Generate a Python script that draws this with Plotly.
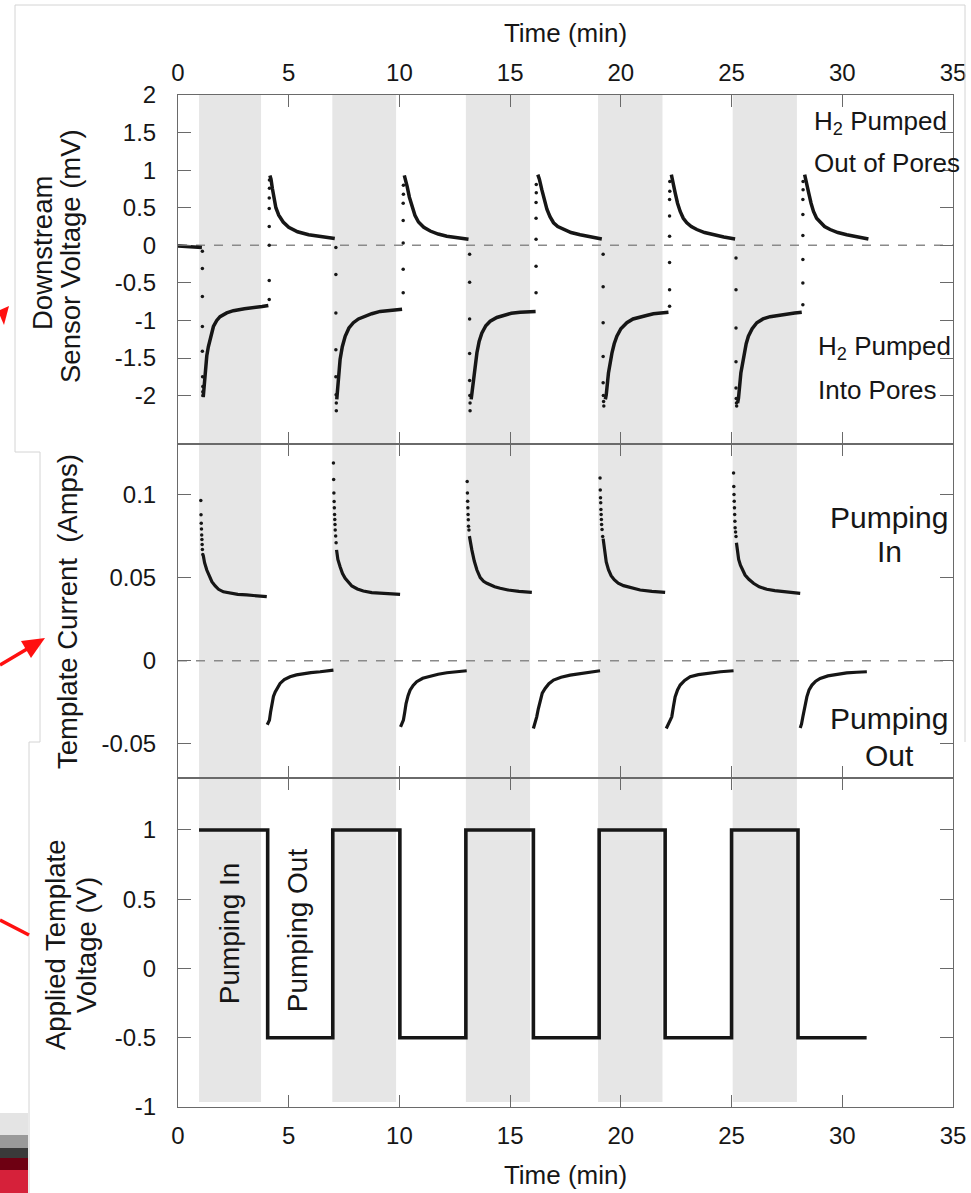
import plotly.graph_objects as go

# ---------------- data ----------------
time_ticks = [0, 5, 10, 15, 20, 25, 30, 35]
time_tick_text = ["0", "5", "10", "15", "20", "25", "30", "35"]

# grey "pumping in" bands (min)
band_start = [0.95, 6.97, 13.0, 18.97, 25.05]
band_end = [3.75, 9.85, 15.9, 21.88, 27.95]

# downstream sensor voltage (mV): continuous parts
sensor_curve_t = [
    0.0, 0.4, 0.8, 1.08, None,
    1.14, 1.18, 1.22, 1.3, 1.37, 1.48, 1.6, 1.75, 1.9, 2.2, 2.5, 3.0, 3.4, 3.8, 4.08, None,
    4.15, 4.2, 4.26, 4.33, 4.42, 4.55, 4.75, 5.0, 5.4, 5.9, 6.4, 7.08, None,
    7.17, 7.22, 7.27, 7.32, 7.42, 7.55, 7.72, 7.92, 8.15, 8.37, 8.75, 9.13, 9.6, 10.12, None,
    10.22, 10.28, 10.35, 10.45, 10.56, 10.7, 10.86, 11.1, 11.39, 11.75, 12.14, 12.6, 13.12, None,
    13.24, 13.3, 13.4, 13.5, 13.6, 13.72, 13.9, 14.1, 14.4, 14.7, 15.05, 15.45, 15.8, 16.15, None,
    16.25, 16.32, 16.43, 16.55, 16.66, 16.8, 16.96, 17.15, 17.41, 17.75, 18.16, 18.6, 19.14, None,
    19.3, 19.34, 19.44, 19.52, 19.6, 19.7, 19.82, 20.0, 20.27, 20.55, 20.87, 21.2, 21.47, 21.8, 22.15, None,
    22.28, 22.35, 22.45, 22.56, 22.68, 22.82, 22.98, 23.18, 23.43, 23.78, 24.18, 24.65, 25.16, None,
    25.27, 25.31, 25.42, 25.5, 25.57, 25.66, 25.76, 25.93, 26.14, 26.42, 26.74, 27.1, 27.5, 27.85, 28.17, None,
    28.3, 28.37, 28.48, 28.59, 28.7, 28.84, 29.0, 29.2, 29.45, 29.8, 30.2, 30.65, 31.18,
]
sensor_curve_mv = [
    -0.01, -0.02, -0.02, -0.03, None,
    -2.02, -1.85, -1.65, -1.47, -1.35, -1.2, -1.08, -1.0, -0.95, -0.9, -0.87, -0.845, -0.835, -0.815, -0.80, None,
    0.93, 0.88, 0.76, 0.62, 0.50, 0.40, 0.31, 0.24, 0.18, 0.14, 0.12, 0.09, None,
    -2.05, -1.9, -1.7, -1.52, -1.35, -1.21, -1.1, -1.03, -0.98, -0.95, -0.91, -0.88, -0.865, -0.85, None,
    0.93, 0.87, 0.78, 0.64, 0.52, 0.40, 0.31, 0.24, 0.19, 0.15, 0.12, 0.10, 0.08, None,
    -2.05, -1.9, -1.65, -1.43, -1.28, -1.17, -1.07, -1.01, -0.96, -0.93, -0.905, -0.89, -0.885, -0.88, None,
    0.94, 0.88, 0.74, 0.60, 0.48, 0.38, 0.30, 0.25, 0.21, 0.17, 0.14, 0.11, 0.085, None,
    -2.05, -1.99, -1.70, -1.55, -1.43, -1.31, -1.21, -1.11, -1.03, -0.98, -0.95, -0.93, -0.91, -0.90, -0.89, None,
    0.94, 0.86, 0.70, 0.56, 0.45, 0.36, 0.30, 0.25, 0.21, 0.17, 0.14, 0.11, 0.085, None,
    -2.1, -2.04, -1.70, -1.55, -1.43, -1.31, -1.21, -1.11, -1.03, -0.98, -0.95, -0.93, -0.91, -0.90, -0.89, None,
    0.94, 0.86, 0.70, 0.56, 0.45, 0.36, 0.31, 0.25, 0.21, 0.17, 0.14, 0.11, 0.085,
]

# downstream sensor voltage (mV): sparse points during the jumps
sensor_jump_t = [
    1.10, 1.10, 1.10, 1.10, 1.10, 1.11, 1.12, 1.12, 1.13,
    4.12, 4.12, 4.12, 4.12, 4.12, 4.12, 4.13, 4.13,
    7.13, 7.13, 7.13, 7.13, 7.13, 7.14, 7.15, 7.15,
    10.17, 10.17, 10.17, 10.17, 10.17, 10.18, 10.18,
    13.17, 13.17, 13.17, 13.17, 13.17, 13.18, 13.19, 13.19,
    16.17, 16.17, 16.17, 16.17, 16.17, 16.18, 16.18,
    19.2, 19.2, 19.2, 19.2, 19.2, 19.21, 19.22, 19.23,
    22.2, 22.2, 22.2, 22.2, 22.2, 22.2, 22.21, 22.21,
    25.2, 25.2, 25.2, 25.2, 25.2, 25.21, 25.22, 25.23,
    28.22, 28.22, 28.22, 28.22, 28.22, 28.22, 28.23, 28.23,
]
sensor_jump_mv = [
    -0.08, -0.31, -0.68, -1.08, -1.41, -1.75, -1.88, -1.95, -2.0,
    -0.72, -0.47, 0.0, 0.25, 0.49, 0.63, 0.76, 0.87,
    -0.03, -0.39, -0.9, -1.39, -1.75, -1.99, -2.1, -2.2,
    -0.63, -0.32, 0.03, 0.33, 0.56, 0.68, 0.80,
    -0.12, -0.49, -0.98, -1.44, -1.8, -2.0, -2.1, -2.2,
    -0.63, -0.28, 0.08, 0.36, 0.57, 0.70, 0.81,
    -0.12, -0.55, -1.03, -1.48, -1.83, -2.0, -2.08, -2.14,
    -0.81, -0.59, -0.23, 0.12, 0.39, 0.61, 0.72, 0.85,
    -0.17, -0.59, -1.10, -1.55, -1.9, -2.04, -2.1, -2.14,
    -0.79, -0.50, -0.19, 0.13, 0.41, 0.61, 0.74, 0.85,
]

# template current (A): pumping-in decays (continuous parts)
current_in_t = [
    1.14, 1.2, 1.3, 1.42, 1.53, 1.68, 1.83, 2.05, 2.35, 2.7, 3.1, 3.5, 4.01, None,
    7.16, 7.22, 7.32, 7.43, 7.55, 7.7, 7.85, 8.1, 8.37, 8.75, 9.13, 9.6, 10.03, None,
    13.16, 13.2, 13.27, 13.38, 13.5, 13.65, 13.8, 13.95, 14.1, 14.3, 14.55, 14.9, 15.4, 15.98, None,
    19.2, 19.26, 19.34, 19.44, 19.56, 19.7, 19.88, 20.12, 20.45, 20.87, 21.4, 22.0, None,
    25.22, 25.26, 25.32, 25.4, 25.5, 25.61, 25.78, 25.99, 26.25, 26.59, 26.95, 27.34, 27.7, 28.1,
]
current_in_a = [
    0.0635, 0.059, 0.0546, 0.0505, 0.0476, 0.045, 0.043, 0.0415, 0.0406, 0.0400, 0.0396, 0.0392, 0.0386, None,
    0.0667, 0.061, 0.0566, 0.0525, 0.0496, 0.047, 0.045, 0.0432, 0.042, 0.041, 0.0406, 0.0402, 0.040, None,
    0.075, 0.071, 0.0667, 0.060, 0.0546, 0.050, 0.0478, 0.0466, 0.0456, 0.0445, 0.0436, 0.0426, 0.0418, 0.0412, None,
    0.0735, 0.066, 0.0595, 0.0548, 0.0512, 0.0488, 0.0467, 0.0452, 0.044, 0.0426, 0.0418, 0.0412, None,
    0.071, 0.0655, 0.061, 0.0575, 0.0545, 0.0516, 0.049, 0.0466, 0.0445, 0.043, 0.0422, 0.0416, 0.041, 0.0406,
]

# template current (A): sparse points at the start of each pumping-in step
current_spike_t = [
    1.03, 1.04, 1.05, 1.06, 1.07, 1.08, 1.09, 1.1, 1.12,
    7.02, 7.03, 7.04, 7.05, 7.06, 7.07, 7.08, 7.09, 7.1, 7.12, 7.14,
    13.06, 13.07, 13.08, 13.09, 13.1, 13.11, 13.12, 13.14,
    19.06, 19.07, 19.08, 19.09, 19.1, 19.11, 19.12, 19.13, 19.15, 19.18,
    25.09, 25.1, 25.11, 25.12, 25.13, 25.14, 25.15, 25.16, 25.18, 25.2,
]
current_spike_a = [
    0.0964, 0.0878, 0.0828, 0.0792, 0.0757, 0.073, 0.070, 0.067, 0.064,
    0.119, 0.109, 0.101, 0.0958, 0.092, 0.088, 0.085, 0.082, 0.0787, 0.075, 0.071,
    0.1078, 0.101, 0.096, 0.092, 0.088, 0.0848, 0.081, 0.0787,
    0.110, 0.1028, 0.098, 0.095, 0.091, 0.088, 0.085, 0.082, 0.079, 0.0747,
    0.1129, 0.1048, 0.100, 0.096, 0.092, 0.088, 0.084, 0.080, 0.0775, 0.0747,
]

# template current (A): pumping-out recoveries
current_out_t = [
    4.03, 4.08, 4.13, 4.18, 4.24, 4.31, 4.39, 4.5, 4.61, 4.8, 5.06, 5.35, 5.66, 6.0, 6.42, 7.02, None,
    10.05, 10.12, 10.18, 10.24, 10.3, 10.39, 10.48, 10.62, 10.78, 11.05, 11.39, 11.75, 12.14, 12.6, 13.04, None,
    16.05, 16.12, 16.2, 16.27, 16.35, 16.45, 16.58, 16.75, 16.96, 17.3, 17.71, 18.2, 18.6, 19.06, None,
    22.05, 22.12, 22.2, 22.3, 22.38, 22.45, 22.56, 22.68, 22.88, 23.13, 23.5, 24.03, 24.5, 25.09, None,
    28.1, 28.16, 28.22, 28.3, 28.4, 28.5, 28.63, 28.8, 29.0, 29.35, 29.76, 30.2, 30.65, 31.11,
]
current_out_a = [
    -0.0385, -0.0375, -0.0357, -0.031, -0.0257, -0.0215, -0.0187, -0.016, -0.0136, -0.0113, -0.0096, -0.0085, -0.0076, -0.0071, -0.0066, -0.0056, None,
    -0.0398, -0.038, -0.0357, -0.031, -0.0257, -0.021, -0.0177, -0.0148, -0.0126, -0.0105, -0.0092, -0.0081, -0.0072, -0.0066, -0.006, None,
    -0.0407, -0.038, -0.0337, -0.029, -0.0237, -0.0195, -0.0166, -0.0138, -0.0116, -0.0099, -0.0086, -0.0075, -0.0068, -0.006, None,
    -0.0407, -0.039, -0.0365, -0.0337, -0.027, -0.0217, -0.0175, -0.0146, -0.0118, -0.0096, -0.0083, -0.0072, -0.0066, -0.006, None,
    -0.0404, -0.038, -0.0337, -0.028, -0.0217, -0.0175, -0.0146, -0.0123, -0.0106, -0.0091, -0.008, -0.0073, -0.0069, -0.0066,
]

# applied template voltage (V), step changes
volt_t = [0.95, 4.05, 6.99, 10.02, 13.0, 16.05, 19.02, 22.0, 25.0, 28.0, 31.1]
volt_v = [1, -0.5, 1, -0.5, 1, -0.5, 1, -0.5, 1, -0.5, -0.5]

sensor_ticks = [-2, -1.5, -1, -0.5, 0, 0.5, 1, 1.5, 2]
sensor_tick_text = ["-2", "-1.5", "-1", "-0.5", "0", "0.5", "1", "1.5", "2"]
current_ticks = [-0.05, 0, 0.05, 0.1]
current_tick_text = ["-0.05", "0", "0.05", "0.1"]
volt_ticks = [-1, -0.5, 0, 0.5, 1]
volt_tick_text = ["-1", "-0.5", "0", "0.5", "1"]

# ---------------- figure ----------------
W, H = 971, 1193
ML, MR, MT, MB = 178, 18, 95, 86
PW, PH = W - ML - MR, H - MT - MB
FONT = "Arial, Liberation Sans, Helvetica, sans-serif"
INK = "#161616"
AX = "#6a6a6a"
RED = "#ff1010"


def px_x(p):
    return (p - ML) / PW


def px_y(p):
    return (H - MB - p) / PH


top_dom = [px_y(444), 1.0]
mid_dom = [px_y(778), px_y(444)]
bot_dom = [0.0, px_y(778)]

fig = go.Figure()

fig.add_trace(go.Scatter(x=sensor_curve_t, y=sensor_curve_mv, mode="lines",
                         line=dict(color=INK, width=3.5), xaxis="x", yaxis="y",
                         showlegend=False, connectgaps=False))
fig.add_trace(go.Scatter(x=sensor_jump_t, y=sensor_jump_mv, mode="markers",
                         marker=dict(color=INK, size=3.5), xaxis="x", yaxis="y",
                         showlegend=False))
fig.add_trace(go.Scatter(x=current_in_t, y=current_in_a, mode="lines",
                         line=dict(color=INK, width=3.2), xaxis="x2", yaxis="y2",
                         showlegend=False, connectgaps=False))
fig.add_trace(go.Scatter(x=current_spike_t, y=current_spike_a, mode="markers",
                         marker=dict(color=INK, size=3.5), xaxis="x2", yaxis="y2",
                         showlegend=False))
fig.add_trace(go.Scatter(x=current_out_t, y=current_out_a, mode="lines",
                         line=dict(color=INK, width=3.2), xaxis="x2", yaxis="y2",
                         showlegend=False, connectgaps=False))
fig.add_trace(go.Scatter(x=volt_t, y=volt_v, mode="lines", line_shape="hv",
                         line=dict(color=INK, width=3.6), xaxis="x3", yaxis="y3",
                         showlegend=False))

shapes = []
for s, e in zip(band_start, band_end):
    shapes.append(dict(type="rect", xref="x", yref="paper", x0=s, x1=e, y0=0.005, y1=1,
                       fillcolor="#e6e6e6", line=dict(width=0), layer="below"))
for yr in ["y", "y2"]:
    shapes.append(dict(type="line", xref="x domain", yref=yr, x0=0, x1=1, y0=0, y1=0,
                       line=dict(color="#8a8a8a", width=1.4, dash="dash"), layer="below"))

# faint frame lines from the slide the figure was taken from
frame_pts = [
    [(15, 5), (965, 5)], [(15, 5), (15, 452)], [(15, 452), (40, 452)],
    [(40, 452), (40, 742)], [(29, 742), (40, 742)], [(29, 742), (29, 1193)],
    [(965, 5), (965, 742)],
]
for (a, b) in frame_pts:
    shapes.append(dict(type="line", xref="paper", yref="paper",
                       x0=px_x(a[0]), y0=px_y(a[1]), x1=px_x(b[0]), y1=px_y(b[1]),
                       line=dict(color="#d4d4d4", width=1)))
# coloured strip at bottom-left corner of the slide
strip = [(1113, 1135, "#e4e4e4"), (1135, 1148, "#9a9a9a"), (1148, 1158, "#3a3a3a"),
         (1158, 1170, "#6e0012"), (1170, 1193, "#d6213a")]
for y0, y1, c in strip:
    shapes.append(dict(type="rect", xref="paper", yref="paper",
                       x0=px_x(0), x1=px_x(28), y0=px_y(y1), y1=px_y(y0),
                       fillcolor=c, line=dict(width=0)))


# red arrows of the slide (drawn as shapes)
def ppath(points):
    return "M " + " L ".join(f"{px_x(x):.5f},{px_y(y):.5f}" for x, y in points) + " Z"


shapes.append(dict(type="path", xref="paper", yref="paper", path=ppath([(9, 306), (-2, 311), (4, 325)]),
                   fillcolor=RED, line=dict(width=0)))
shapes.append(dict(type="line", xref="paper", yref="paper", x0=px_x(0), y0=px_y(665),
                   x1=px_x(27), y1=px_y(649), line=dict(color=RED, width=3.5)))
shapes.append(dict(type="path", xref="paper", yref="paper", path=ppath([(45, 638), (21, 641), (31, 658)]),
                   fillcolor=RED, line=dict(width=0)))
shapes.append(dict(type="line", xref="paper", yref="paper", x0=px_x(0), y0=px_y(920),
                   x1=px_x(29), y1=px_y(935), line=dict(color=RED, width=3.5)))

ann = []
tf = dict(family=FONT, color=INK)


def txt(text, x, y, size, xref="paper", yref="paper", angle=0, xanchor="center", yanchor="middle"):
    ann.append(dict(text=text, x=x, y=y, xref=xref, yref=yref, showarrow=False,
                    textangle=angle, xanchor=xanchor, yanchor=yanchor,
                    font=dict(size=size, **tf)))


# y-axis titles
txt("Downstream", px_x(42), px_y(253), 27.5, angle=-90)
txt("Sensor Voltage (mV)", px_x(71), px_y(256), 27.5, angle=-90)
txt("Template Current\u00a0 (Amps)", px_x(67), px_y(612), 27.5, angle=-90)
txt("Applied Template", px_x(55), px_y(945), 27.5, angle=-90)
txt("Voltage (V)", px_x(86), px_y(945), 27.5, angle=-90)

# in-plot labels
txt("H<sub>2</sub> Pumped", 28.63, 1.64, 26, "x", "y", xanchor="left")
txt("Out of Pores", 28.63, 1.09, 26, "x", "y", xanchor="left")
txt("H<sub>2</sub> Pumped", 28.82, -1.36, 26, "x", "y", xanchor="left")
txt("Into Pores", 28.82, -1.92, 26, "x", "y", xanchor="left")
txt("Pumping", 32.12, 0.086, 30, "x2", "y2")
txt("In", 32.12, 0.0655, 30, "x2", "y2")
txt("Pumping", 32.12, -0.035, 30, "x2", "y2")
txt("Out", 32.12, -0.0568, 30, "x2", "y2")
txt("Pumping In", 2.31, 0.255, 28, "x3", "y3", angle=-90)
txt("Pumping Out", 5.38, 0.277, 28, "x3", "y3", angle=-90)

common_x = dict(range=[0, 35], tickvals=time_ticks, ticktext=time_tick_text,
                ticks="inside", ticklen=12, tickcolor=AX, tickwidth=1,
                showline=True, linecolor=AX, linewidth=1, mirror="ticks",
                showgrid=False, zeroline=False, automargin=False,
                tickfont=dict(size=24, **tf))
common_y = dict(ticks="inside", ticklen=13, tickcolor=AX, tickwidth=1,
                showline=True, linecolor=AX, linewidth=1, mirror="ticks",
                showgrid=False, zeroline=False, ticklabelstandoff=16, automargin=False,
                tickfont=dict(size=24, **tf))

fig.update_layout(
    width=W, height=H,
    margin=dict(l=ML, r=MR, t=MT, b=MB),
    paper_bgcolor="white", plot_bgcolor="white",
    font=dict(family=FONT, color=INK),
    showlegend=False,
    hovermode=False,
    shapes=shapes,
    annotations=ann,
    xaxis=dict(common_x, anchor="y", side="top", showticklabels=True, ticklabelstandoff=3,
               title=dict(text="Time (min)", font=dict(size=26, **tf), standoff=9)),
    xaxis2=dict(common_x, anchor="y2", matches="x", showticklabels=False),
    xaxis3=dict(common_x, anchor="y3", matches="x", side="bottom", showticklabels=True,
                ticklabelstandoff=7,
                title=dict(text="Time (min)", font=dict(size=26, **tf), standoff=18)),
    yaxis=dict(common_y, domain=top_dom, anchor="x", range=[-2.644, 2.0],
               tickvals=sensor_ticks, ticktext=sensor_tick_text),
    yaxis2=dict(common_y, domain=mid_dom, anchor="x2", range=[-0.0705, 0.1304],
                tickvals=current_ticks, ticktext=current_tick_text),
    yaxis3=dict(common_y, domain=bot_dom, anchor="x3", range=[-1.0, 1.375],
                tickvals=volt_ticks, ticktext=volt_tick_text),
)

# remove the browser's default page margin so the figure fills the window exactly
fig.write_html("out.html", config={"displayModeBar": False},
               post_script="document.body.style.margin='0';document.body.style.overflow='hidden';")
